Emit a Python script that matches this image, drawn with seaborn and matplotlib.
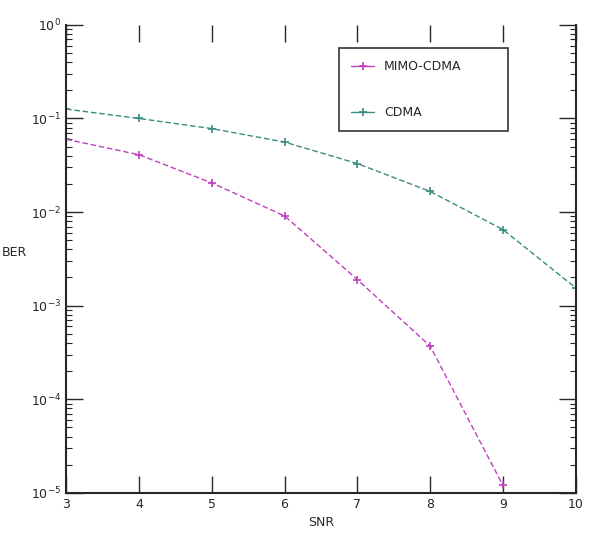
import matplotlib
matplotlib.use('Agg')
import matplotlib.pyplot as plt
import seaborn as sns
import pandas as pd
import numpy as np

# values
snr = [3, 4, 5, 6, 7, 8, 9, 10]
ber_mimo_cdma = [0.060, 0.041, 0.0205, 0.0091, 0.0019, 0.00037, 0.000012]
ber_cdma = [0.126, 0.100, 0.078, 0.056, 0.033, 0.0166, 0.0065, 0.00155]
series_names = ['MIMO-CDMA', 'CDMA']
ytick_exps = [0, -1, -2, -3, -4, -5]

df = pd.concat([
    pd.DataFrame({'SNR': snr[:len(ber_mimo_cdma)], 'BER': ber_mimo_cdma, 'series': series_names[0]}),
    pd.DataFrame({'SNR': snr, 'BER': ber_cdma, 'series': series_names[1]}),
])

sns.set_style('ticks')
plt.rcParams['font.family'] = ['DejaVu Sans']

fig = plt.figure(figsize=(5.96, 5.41), dpi=100)
ax = fig.add_axes([0.111, 0.089, 0.855, 0.865])

palette = {'MIMO-CDMA': '#c040c0', 'CDMA': '#3a8c80'}
sns.lineplot(data=df, x='SNR', y='BER', hue='series', hue_order=series_names,
             palette=palette, marker='+', markersize=6, markeredgewidth=1.2,
             linewidth=1.0, linestyle=(0, (4, 2)), ax=ax)

# seaborn paints marker edges white; give them the line colour
for line in ax.get_lines():
    line.set_markeredgecolor(line.get_color())

ax.set_yscale('log')
ax.set_xlim(3, 10)
ax.set_ylim(1e-5, 1)
ax.set_xticks(snr)
ax.set_xticklabels([str(s) for s in snr], fontsize=9)
ax.set_yticks([10.0 ** e for e in ytick_exps])
ax.set_yticklabels([f'$10^{{{e}}}$' for e in ytick_exps], fontsize=9)
ax.set_xlabel('SNR', fontsize=9)
ax.set_ylabel('BER', fontsize=9, rotation=0, labelpad=12)

ax.spines['top'].set_visible(False)
for side in ['left', 'bottom', 'right']:
    ax.spines[side].set_linewidth(1.5)
ax.tick_params(which='both', direction='in', top=True, right=True)
ax.tick_params(which='major', length=12, width=1)
ax.tick_params(which='minor', length=4, width=0.8)

leg = ax.legend(loc='upper left', bbox_to_anchor=(0.523, 0.75, 0.357, 0.214),
                mode='expand', fontsize=9, labelspacing=2.6, borderpad=1.0,
                handlelength=1.8, fancybox=False, frameon=True)
leg.get_frame().set_edgecolor('black')
leg.get_frame().set_linewidth(1.2)
leg.set_title(None)
for h in leg.get_lines():
    h.set_markeredgecolor(h.get_color())
    h.set_marker('+')
    h.set_linestyle('-')

fig.savefig('out.png', dpi=100)
